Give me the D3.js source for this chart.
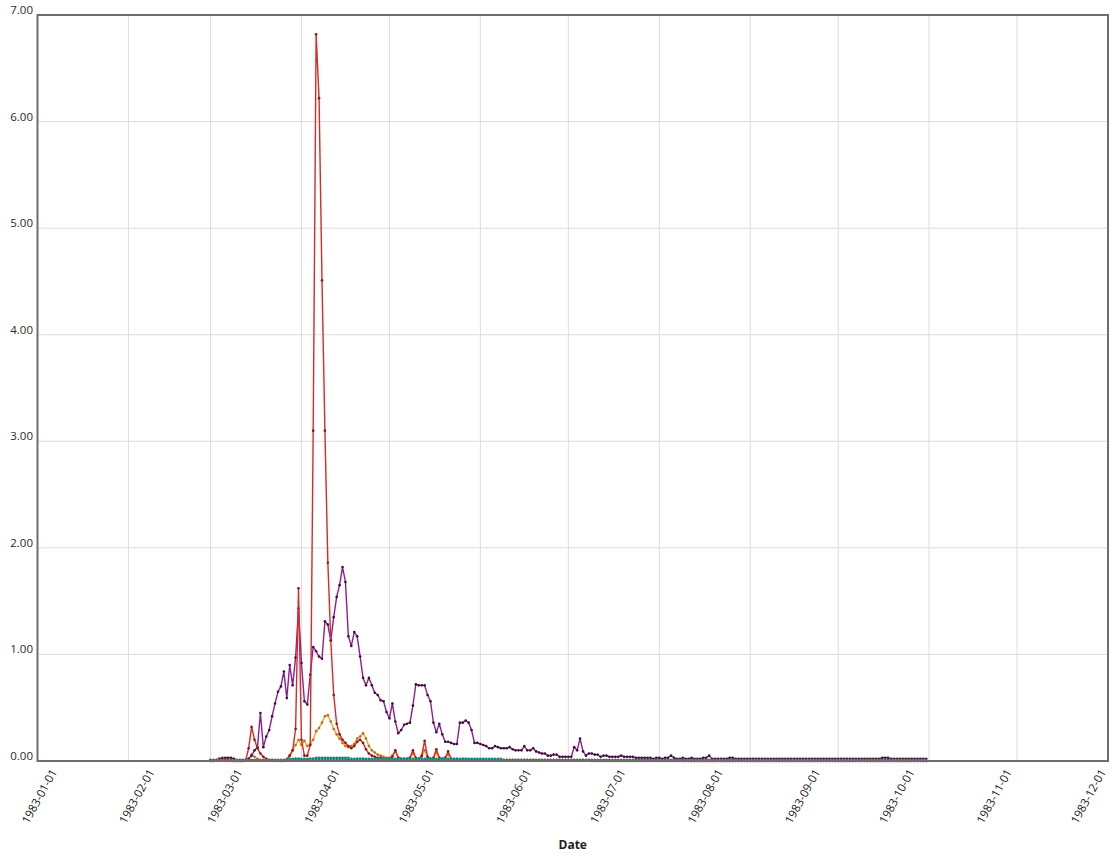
<!DOCTYPE html>
<html>
<head>
<meta charset="utf-8">
<script src="https://cdn.jsdelivr.net/npm/d3@7"></script>
<style>
  body { margin: 0; background: #fff; }
  svg { display: block; font-family: "Open Sans", "Noto Sans", sans-serif; }
</style>
</head>
<body>
<svg id="chart" width="1112" height="862"></svg>
<script>
// Daily readings, one value per day starting on firstDay
const firstDay = "1983-03-01";

const monthTicks = ["1983-01-01","1983-02-01","1983-03-01","1983-04-01","1983-05-01","1983-06-01",
  "1983-07-01","1983-08-01","1983-09-01","1983-10-01","1983-11-01","1983-12-01"];
const yTicks = [0, 1, 2, 3, 4, 5, 6, 7];

const purpleValues = [
  0.01,0.01,0.01,0.02,0.02,0.03,0.03,0.03,0.02,0.01,
  0.01,0.01,0.01,0.02,0.05,0.10,0.13,0.45,0.13,0.23,
  0.29,0.42,0.54,0.65,0.70,0.84,0.59,0.90,0.71,0.97,
  1.43,0.92,0.56,0.53,0.81,1.07,1.03,0.98,0.96,1.31,
  1.28,1.13,1.35,1.54,1.65,1.82,1.68,1.17,1.08,1.21,
  1.17,0.98,0.78,0.71,0.78,0.71,0.64,0.62,0.57,0.56,
  0.46,0.40,0.54,0.37,0.26,0.29,0.34,0.35,0.36,0.52,
  0.72,0.71,0.71,0.71,0.62,0.56,0.36,0.27,0.35,0.25,
  0.18,0.18,0.17,0.16,0.16,0.36,0.36,0.38,0.36,0.29,
  0.17,0.17,0.16,0.15,0.14,0.12,0.12,0.14,0.13,0.12,
  0.12,0.12,0.13,0.11,0.10,0.10,0.10,0.14,0.10,0.10,
  0.12,0.09,0.08,0.07,0.07,0.05,0.05,0.06,0.06,0.04,
  0.04,0.04,0.04,0.04,0.13,0.10,0.21,0.09,0.05,0.07,
  0.07,0.06,0.06,0.04,0.05,0.05,0.04,0.04,0.04,0.04,
  0.05,0.04,0.04,0.04,0.04,0.03,0.03,0.03,0.03,0.03,
  0.03,0.02,0.03,0.03,0.02,0.03,0.03,0.05,0.03,0.02,
  0.02,0.03,0.02,0.02,0.03,0.02,0.02,0.02,0.03,0.03,
  0.05,0.02,0.02,0.02,0.02,0.02,0.02,0.03,0.03,0.02,
  0.02,0.02,0.02,0.02,0.02,0.02,0.02,0.02,0.02,0.02,
  0.02,0.02,0.02,0.02,0.02,0.02,0.02,0.02,0.02,0.02,
  0.02,0.02,0.02,0.02,0.02,0.02,0.02,0.02,0.02,0.02,
  0.02,0.02,0.02,0.02,0.02,0.02,0.02,0.02,0.02,0.02,
  0.02,0.02,0.02,0.02,0.02,0.02,0.02,0.02,0.02,0.03,
  0.03,0.03,0.02,0.02,0.02,0.02,0.02,0.02,0.02,0.02,
  0.02,0.02,0.02,0.02,0.02
];

const redValues = [
  0.00,0.00,0.01,0.02,0.03,0.02,0.01,0.01,0.00,0.00,
  0.00,0.00,0.01,0.12,0.32,0.20,0.12,0.07,0.04,0.02,
  0.01,0.01,0.00,0.00,0.00,0.00,0.01,0.05,0.10,0.30,
  1.62,0.20,0.05,0.05,0.15,3.10,6.82,6.22,4.51,3.10,
  1.86,1.13,0.62,0.35,0.25,0.20,0.17,0.14,0.12,0.14,
  0.18,0.20,0.17,0.11,0.07,0.05,0.04,0.03,0.03,0.02,
  0.02,0.02,0.04,0.10,0.03,0.02,0.02,0.02,0.03,0.10,
  0.03,0.02,0.05,0.19,0.04,0.02,0.03,0.11,0.03,0.02,
  0.03,0.09,0.02,0.01,0.01,0.01,0.01,0.01,0.01,0.01,
  0.01,0.01,0.01,0.01,0.01,0.01,0.01,0.01,0.01,0.01,
  0.01,0.01,0.01,0.01,0.01,0.01,0.01,0.01,0.01,0.01,
  0.01,0.01,0.01,0.01,0.01,0.01,0.01,0.01,0.01,0.01,
  0.01,0.01,0.01,0.01,0.01,0.01,0.01,0.01,0.01,0.01,
  0.00,0.00,0.00,0.00,0.00,0.00,0.00,0.00,0.00,0.00,
  0.00,0.00,0.00,0.00,0.00,0.00,0.00,0.00,0.00,0.00,
  0.00,0.00,0.00,0.00,0.00,0.00,0.00,0.00,0.00,0.00,
  0.00,0.00,0.00,0.00,0.00,0.00,0.00,0.00,0.00,0.00,
  0.00,0.00,0.00,0.00,0.00,0.00,0.00,0.00,0.00,0.00,
  0.00,0.00,0.00,0.00,0.00,0.00,0.00,0.00,0.00,0.00,
  0.00,0.00,0.00,0.00,0.00,0.00,0.00,0.00,0.00,0.00,
  0.00,0.00,0.00,0.00,0.00,0.00,0.00,0.00,0.00,0.00,
  0.00,0.00,0.00,0.00,0.00,0.00,0.00,0.00,0.00,0.00,
  0.00,0.00,0.00,0.00,0.00,0.00,0.00,0.00,0.00,0.00,
  0.00,0.00,0.00,0.00,0.00,0.00,0.00,0.00,0.00,0.00,
  0.00,0.00,0.00,0.00,0.00
];

const orangeValues = [
  0.00,0.00,0.00,0.01,0.01,0.01,0.00,0.00,0.00,0.00,
  0.00,0.00,0.01,0.02,0.06,0.04,0.02,0.01,0.01,0.01,
  0.01,0.01,0.01,0.01,0.01,0.01,0.02,0.05,0.10,0.15,
  0.20,0.15,0.19,0.14,0.16,0.20,0.28,0.31,0.36,0.42,
  0.43,0.37,0.30,0.25,0.21,0.17,0.14,0.13,0.14,0.16,
  0.21,0.23,0.26,0.21,0.14,0.10,0.08,0.06,0.05,0.04,
  0.03,0.03,0.05,0.09,0.03,0.02,0.02,0.02,0.03,0.07,
  0.02,0.02,0.04,0.10,0.03,0.02,0.02,0.08,0.02,0.02,
  0.03,0.06,0.02,0.02,0.02,0.01,0.02,0.02,0.01,0.01,
  0.01,0.01,0.01,0.01,0.01,0.01,0.01,0.01,0.01,0.01,
  0.01,0.01,0.01,0.01,0.01,0.01,0.01,0.01,0.01,0.01,
  0.01,0.01,0.01,0.01,0.01,0.01,0.01,0.01,0.01,0.01,
  0.01,0.01,0.01,0.01,0.01,0.01,0.01,0.01,0.01,0.01,
  0.01,0.01,0.01,0.01,0.01,0.01,0.01,0.01,0.01,0.01,
  0.01,0.01,0.01,0.01,0.01,0.01,0.01,0.01,0.01,0.01,
  0.01,0.01,0.01,0.01,0.01,0.01,0.01,0.01,0.01,0.01,
  0.00,0.00,0.00,0.00,0.00,0.00,0.00,0.00,0.00,0.00,
  0.00,0.00,0.00,0.00,0.00,0.00,0.00,0.00,0.00,0.00,
  0.00,0.00,0.00,0.00,0.00,0.00,0.00,0.00,0.00,0.00,
  0.00,0.00,0.00,0.00,0.00,0.00,0.00,0.00,0.00,0.00,
  0.00,0.00,0.00,0.00,0.00,0.00,0.00,0.00,0.00,0.00,
  0.00,0.00,0.00,0.00,0.00,0.00,0.00,0.00,0.00,0.00,
  0.00,0.00,0.00,0.00,0.00,0.00,0.00,0.00,0.00,0.00,
  0.00,0.00,0.00,0.00,0.00,0.00,0.00,0.00,0.00,0.00,
  0.00,0.00,0.00,0.00,0.00
];

const greenValues = [
  0.01,0.01,0.01,0.01,0.01,0.01,0.01,0.01,0.01,0.01,
  0.01,0.01,0.01,0.01,0.01,0.01,0.01,0.01,0.01,0.01,
  0.01,0.01,0.01,0.01,0.01,0.01,0.01,0.01,0.01,0.02,
  0.02,0.01,0.01,0.01,0.02,0.02,0.02,0.02,0.02,0.02,
  0.02,0.02,0.02,0.02,0.02,0.02,0.02,0.01,0.01,0.01,
  0.02,0.02,0.02,0.01,0.01,0.01,0.01,0.01,0.01,0.01,
  0.01,0.01,0.01,0.01,0.01,0.01,0.01,0.01,0.01,0.01,
  0.01,0.01,0.01,0.01,0.01,0.01,0.01,0.01,0.01,0.01,
  0.01,0.01,0.01,0.01,0.01,0.01,0.01,0.01,0.01,0.01,
  0.01,0.01,0.01,0.01,0.01,0.01,0.01,0.01,0.01,0.01,
  0.01,0.01,0.01,0.01,0.01,0.01,0.01,0.01,0.01,0.01,
  0.01,0.01,0.01,0.01,0.01,0.01,0.01,0.01,0.01,0.01,
  0.01,0.01,0.01,0.01,0.01,0.01,0.01,0.01,0.01,0.01,
  0.01,0.01,0.01,0.01,0.01,0.01,0.01,0.01,0.01,0.01,
  0.01,0.01,0.01,0.01,0.01,0.01,0.01,0.01,0.01,0.01,
  0.01,0.01,0.01,0.01,0.01,0.01,0.01,0.01,0.01,0.01,
  0.01,0.01,0.01,0.01,0.01,0.01,0.01,0.01,0.01,0.01,
  0.01,0.01,0.01,0.01,0.01,0.01,0.01,0.01,0.01,0.01,
  0.01,0.01,0.01,0.01,0.01,0.01,0.01,0.01,0.01,0.01,
  0.01,0.01,0.01,0.01,0.01,0.01,0.01,0.01,0.01,0.01,
  0.01,0.01,0.01,0.01,0.01,0.01,0.01,0.01,0.01,0.01,
  0.01,0.01,0.01,0.01,0.01,0.01,0.01,0.01,0.01,0.01,
  0.01,0.01,0.01,0.01,0.01,0.01,0.01,0.01,0.01,0.01,
  0.01,0.01,0.01,0.01,0.01,0.01,0.01,0.01,0.01,0.01,
  0.01,0.01,0.01,0.01,0.01
];

const tealValues = [
  0.01,0.01,0.01,0.01,0.01,0.01,0.01,0.01,0.01,0.01,
  0.01,0.01,0.01,0.01,0.01,0.01,0.01,0.01,0.01,0.01,
  0.01,0.01,0.01,0.01,0.01,0.01,0.01,0.02,0.02,0.02,
  0.02,0.02,0.02,0.02,0.02,0.02,0.03,0.03,0.03,0.03,
  0.03,0.03,0.03,0.03,0.03,0.03,0.03,0.03,0.02,0.02,
  0.02,0.02,0.02,0.02,0.02,0.02,0.02,0.02,0.02,0.02,
  0.02,0.02,0.02,0.02,0.02,0.02,0.02,0.02,0.02,0.02,
  0.02,0.02,0.02,0.02,0.02,0.02,0.02,0.02,0.02,0.02,
  0.02,0.02,0.02,0.02,0.02,0.02,0.02,0.02,0.02,0.02,
  0.02,0.02,0.02,0.02,0.02,0.02,0.02,0.02,0.02,0.02,
  0.01,0.01,0.01,0.01,0.01,0.01,0.01,0.01,0.01,0.01,
  0.01,0.01,0.01,0.01,0.01,0.01,0.01,0.01,0.01,0.01,
  0.01,0.01,0.01,0.01,0.01,0.01,0.01,0.01,0.01,0.01,
  0.01,0.01,0.01,0.01,0.01,0.01,0.01,0.01,0.01,0.01,
  0.01,0.01,0.01,0.01,0.01,0.01,0.01,0.01,0.01,0.01,
  0.01,0.01,0.01,0.01,0.01,0.01,0.01,0.01,0.01,0.01,
  0.01,0.01,0.01,0.01,0.01,0.01,0.01,0.01,0.01,0.01,
  0.01,0.01,0.01,0.01,0.01,0.01,0.01,0.01,0.01,0.01,
  0.01,0.01,0.01,0.01,0.01,0.01,0.01,0.01,0.01,0.01,
  0.01,0.01,0.01,0.01,0.01,0.01,0.01,0.01,0.01,0.01,
  0.01,0.01,0.01,0.01,0.01,0.01,0.01,0.01,0.01,0.01,
  0.01,0.01,0.01,0.01,0.01,0.01,0.01,0.01,0.01,0.01,
  0.01,0.01,0.01,0.01,0.01,0.01,0.01,0.01,0.01,0.01,
  0.01,0.01,0.01,0.01,0.01,0.01,0.01,0.01,0.01,0.01,
  0.01,0.01,0.01,0.01,0.01
];

// Drawing order and colours (line, point)
const seriesList = [
  { values: orangeValues, line: "#f2a526", dot: "#b7701a" },
  { values: purpleValues, line: "#8e1f8e", dot: "#3a1238" },
  { values: redValues,    line: "#d42b2b", dot: "#8a1616" },
  { values: greenValues,  line: "#5aa55a", dot: "#2f6b2f" },
  { values: tealValues,   line: "#3fc3c3", dot: "#1f8080" }
];

const svg = d3.select("#chart");
const plot = { left: 37.5, right: 1108, top: 15, bottom: 761 };

const parse = d3.utcParse("%Y-%m-%d");
const start = parse(firstDay);

// Time scale for the plotted data and gridlines (whole year)
const x = d3.scaleUtc()
  .domain([parse("1983-01-01"), parse("1984-01-01")])
  .range([plot.left, plot.right]);
// The tick labels are spread from the first to the last label across the axis width
const xLabel = d3.scaleUtc()
  .domain([parse(monthTicks[0]), parse(monthTicks[monthTicks.length - 1])])
  .range([39, 1088]);
const y = d3.scaleLinear()
  .domain([0, 7])
  .range([plot.bottom, plot.top]);

// Gridlines
const grid = svg.append("g");
grid.selectAll("line.v")
  .data(monthTicks.slice(1))
  .join("line")
  .attr("x1", d => x(parse(d))).attr("x2", d => x(parse(d)))
  .attr("y1", plot.top).attr("y2", plot.bottom)
  .attr("stroke", "#dcdcdc").attr("stroke-width", 1);
grid.selectAll("line.h")
  .data(yTicks.slice(1, -1))
  .join("line")
  .attr("x1", plot.left).attr("x2", plot.right)
  .attr("y1", d => y(d)).attr("y2", d => y(d))
  .attr("stroke", "#dcdcdc").attr("stroke-width", 1);

// Y axis labels
const fmt = d3.format(".2f");
svg.append("g").selectAll("text")
  .data(yTicks)
  .join("text")
  .attr("x", 33)
  .attr("y", d => y(d) - 1)
  .attr("text-anchor", "end")
  .attr("font-size", 11.5)
  .attr("fill", "#2a2a2a")
  .text(d => fmt(d));

// X axis labels, rotated about their centres
svg.append("g").selectAll("text")
  .data(monthTicks)
  .join("text")
  .attr("transform", d => `translate(${xLabel(parse(d))},796) rotate(-61)`)
  .attr("text-anchor", "middle")
  .attr("dominant-baseline", "central")
  .attr("font-size", 11.5)
  .attr("fill", "#222")
  .text(d => d);

svg.append("text")
  .attr("x", (plot.left + plot.right) / 2).attr("y", 849)
  .attr("text-anchor", "middle")
  .attr("font-size", 12)
  .attr("font-weight", "bold")
  .attr("fill", "#222")
  .text("Date");

// Series lines and points
const day = (i) => d3.utcDay.offset(start, i);
const lineGen = d3.line()
  .x((d, i) => x(day(i)))
  .y(d => y(d));

const seriesG = svg.append("g");
seriesList.forEach(s => {
  seriesG.append("path")
    .attr("d", lineGen(s.values))
    .attr("fill", "none")
    .attr("stroke", s.line)
    .attr("stroke-width", 1.4)
    .attr("stroke-linejoin", "round");
  seriesG.append("g").selectAll("circle")
    .data(s.values)
    .join("circle")
    .attr("cx", (d, i) => x(day(i)))
    .attr("cy", d => y(d))
    .attr("r", 1.3)
    .attr("fill", s.dot);
});

// Plot frame
svg.append("rect")
  .attr("x", plot.left).attr("y", plot.top)
  .attr("width", plot.right - plot.left)
  .attr("height", plot.bottom - plot.top)
  .attr("fill", "none")
  .attr("stroke", "#6e6e6e")
  .attr("stroke-width", 2);
</script>
</body>
</html>
